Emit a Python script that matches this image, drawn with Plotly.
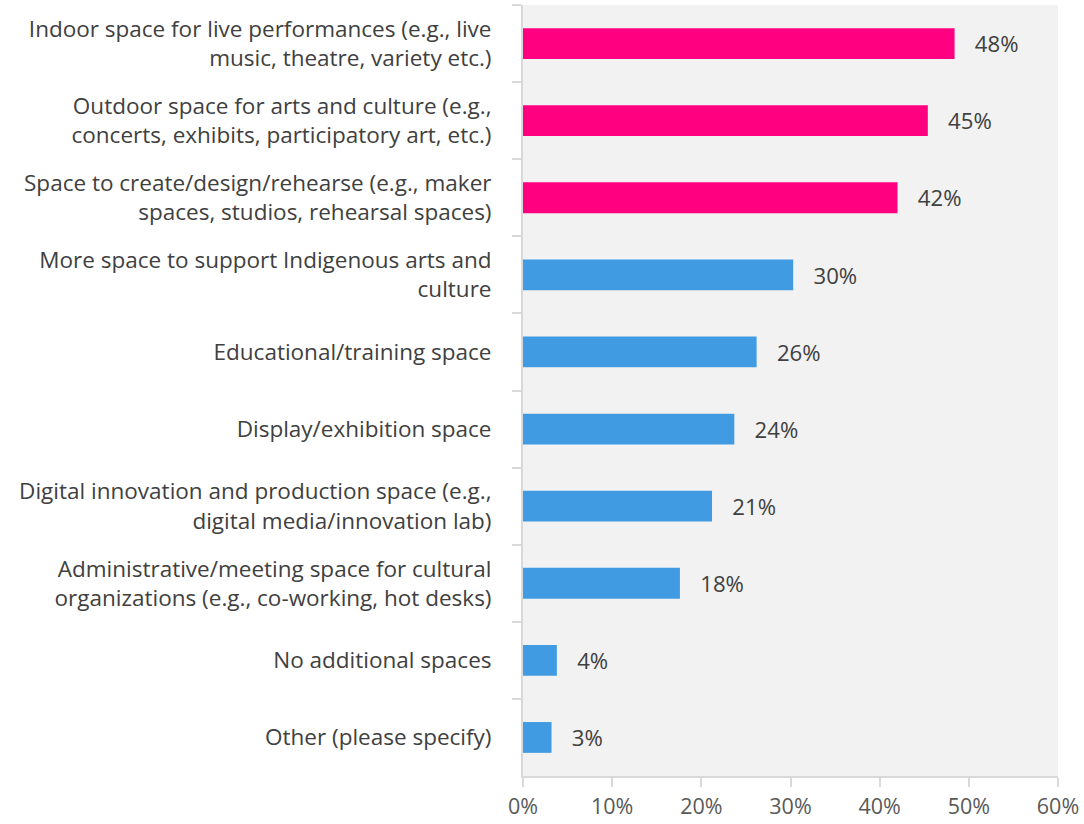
import plotly.graph_objects as go

# Survey responses: share of respondents wanting each type of space
categories = [
    "Indoor space for live performances (e.g., live<br>music, theatre, variety etc.)",
    "Outdoor space for arts and culture (e.g.,<br>concerts, exhibits, participatory art, etc.)",
    "Space to create/design/rehearse (e.g., maker<br>spaces, studios, rehearsal spaces)",
    "More space to support Indigenous arts and<br>culture",
    "Educational/training space",
    "Display/exhibition space",
    "Digital innovation and production space (e.g.,<br>digital media/innovation lab)",
    "Administrative/meeting space for cultural<br>organizations (e.g., co-working, hot desks)",
    "No additional spaces",
    "Other (please specify)",
]
values = [48.4, 45.4, 42.0, 30.3, 26.2, 23.7, 21.2, 17.6, 3.8, 3.2]
highlight = [True, True, True, False, False, False, False, False, False, False]

x_tick_values = [0, 10, 20, 30, 40, 50, 60]
x_tick_labels = ["0%", "10%", "20%", "30%", "40%", "50%", "60%"]

PINK = "#ff0080"
BLUE = "#419be3"
bar_colors = [PINK if h else BLUE for h in highlight]

FONT = "Open Sans, Noto Sans, sans-serif"
TEXT = "#404040"
AXIS = "#d9d9d9"

fig = go.Figure(
    go.Bar(
        x=values,
        y=categories,
        orientation="h",
        marker=dict(color=bar_colors, line=dict(width=0)),
        texttemplate="\u00a0\u00a0\u00a0%{x:.0f}%",
        textposition="outside",
        textfont=dict(family=FONT, size=23, color=TEXT),
        cliponaxis=False,
        hoverinfo="skip",
    )
)

fig.update_layout(
    width=1084,
    height=824,
    margin=dict(l=523, r=26, t=5, b=48, autoexpand=False),
    paper_bgcolor="white",
    plot_bgcolor="#f2f2f2",
    bargap=0.6,
    showlegend=False,
    font=dict(family=FONT, size=22, color=TEXT),
)

fig.update_xaxes(
    automargin=False,
    range=[0, 60],
    tickvals=x_tick_values,
    ticktext=x_tick_labels,
    showgrid=False,
    zeroline=False,
    showline=True,
    linecolor=AXIS,
    linewidth=2,
    ticks="outside",
    ticklen=9,
    tickwidth=2,
    tickcolor=AXIS,
    ticklabelstandoff=1,
    tickfont=dict(family=FONT, size=21.5, color="#595959"),
)

fig.update_yaxes(
    automargin=False,
    autorange="reversed",
    showgrid=False,
    showline=True,
    linecolor=AXIS,
    linewidth=2,
    ticks="outside",
    tickson="boundaries",
    ticklen=9,
    tickwidth=2,
    tickcolor=AXIS,
    ticklabelstandoff=25,
    tickfont=dict(family=FONT, size=22.5, color=TEXT),
)

fig.write_html("out.html")
